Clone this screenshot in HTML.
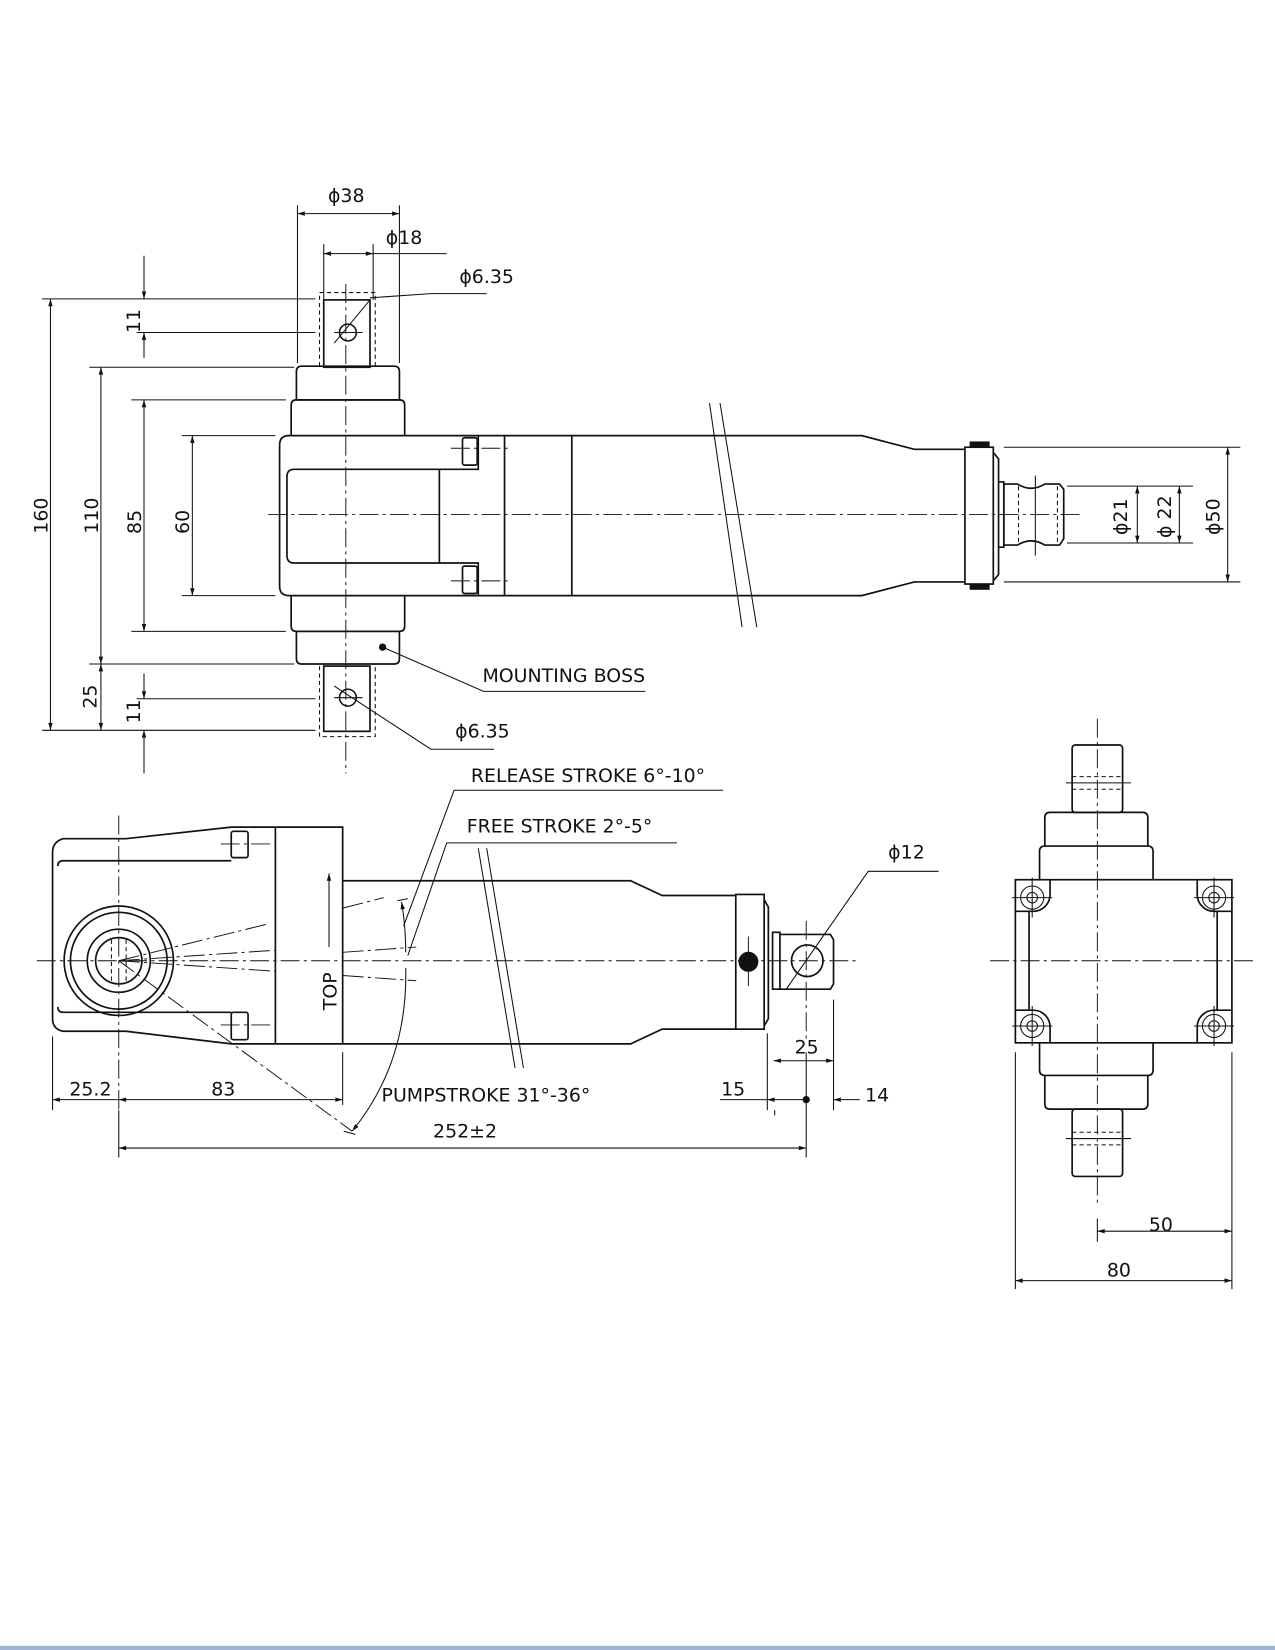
<!DOCTYPE html>
<html><head><style>
html,body{margin:0;padding:0;background:#fff;}
svg{display:block;}
text{font-family:"DejaVu Sans","Liberation Sans",sans-serif;fill:#111;}
</style></head><body>
<svg width="1275" height="1650" viewBox="0 0 1213 1568" preserveAspectRatio="none" xmlns="http://www.w3.org/2000/svg">
<defs>
<marker id="a" viewBox="0 0 10 10" refX="10" refY="5" markerWidth="9" markerHeight="7" orient="auto-start-reverse" markerUnits="userSpaceOnUse"><path d="M0,2 L10,5 L0,8 z" fill="#111"/></marker>
</defs>
<g fill="none" stroke="#111" stroke-width="1">
<!-- ============ TOP VIEW ============ -->
<g stroke-width="1.6">
<rect x="308" y="285" width="44" height="64"/>
<rect x="308" y="633" width="44" height="62"/>
<path d="M282,380 V353 Q282,348 287,348 H375 Q380,348 380,353 V380 Z"/>
<path d="M277,414 V385 Q277,380 282,380 H380 Q385,380 385,385 V414"/>
<path d="M277,566 V595 Q277,600 282,600 H380 Q385,600 385,595 V566"/>
<path d="M282,600 V626 Q282,631 287,631 H375 Q380,631 380,626 V600"/>
<path d="M480,414 H275 Q266,414 266,423 V557 Q266,566 275,566 H480"/>
<path d="M418,446 H280 Q273,446 273,453 V528 Q273,535 280,535 H418 Z"/>
<path d="M418,446 H455 V414 M418,535 H455 V566"/>
<rect x="440" y="416" width="14" height="26" rx="2"/>
<rect x="440" y="538" width="14" height="26" rx="2"/>
<path d="M480,414 V566 M544,414 V566"/>
<path d="M480,414 H820 L870,427 H918 M480,566 H820 L870,553 H918"/>
<rect x="918" y="425" width="27" height="130"/>
<path d="M945,430 L950,436 V546 L945,552 M950,458 H955 V520 H950"/>
<path d="M955,460 H968 Q981,468 994,460 H1008 L1012,465 V512 L1008,518 H994 Q981,510 968,518 H955 Z"/>
</g>
<rect x="923" y="420" width="18" height="5" fill="#111"/>
<rect x="923" y="555" width="18" height="5" fill="#111"/>
<path d="M969,462 V516 M1006,462 V516" stroke-dasharray="4,3"/>
<path d="M985,452 V528"/>
<path d="M675,383 L706,596 M685,383 L720,596"/>
<path d="M304,348 V278 H357 V348 M304,633 V700 H357 V633" stroke-dasharray="4,3"/>
<path d="M329,270 V735 M255,489 H1030" stroke-dasharray="18,4,3,4" stroke-width="0.9"/>
<path d="M429,426 H485 M429,552 H485" stroke-dasharray="18,4,3,4" stroke-width="0.9"/>
<circle cx="331" cy="316" r="8" stroke-width="1.5"/>
<circle cx="331" cy="663" r="8" stroke-width="1.5"/>
<path d="M318,316 H345 M318,663 H345"/>
<circle cx="364" cy="615" r="3" fill="#111"/>
<!-- top view dims -->
<path d="M283,195 V345 M380,195 V345 M308,232 V285 M355,232 V285 M355,241 H425"/>
<line x1="283" y1="203" x2="380" y2="203" marker-start="url(#a)" marker-end="url(#a)"/>
<line x1="308" y1="241" x2="355" y2="241" marker-start="url(#a)" marker-end="url(#a)"/>
<path d="M318,326 L352,285 M352,283 L410,279 H463"/>
<path d="M318,652 L410,712 H470"/>
<path d="M364,615 L460,657 H614"/>
<path d="M40,284 H300 M130,316 H300 M85,349 H280 M125,380 H272 M173,414 H262 M173,566 H262 M125,600 H272 M85,631 H280 M130,664 H300 M40,694 H300"/>
<line x1="48" y1="284" x2="48" y2="694" marker-start="url(#a)" marker-end="url(#a)"/>
<line x1="96" y1="349" x2="96" y2="631" marker-start="url(#a)" marker-end="url(#a)"/>
<line x1="96" y1="631" x2="96" y2="694" marker-start="url(#a)" marker-end="url(#a)"/>
<line x1="137" y1="380" x2="137" y2="600" marker-start="url(#a)" marker-end="url(#a)"/>
<line x1="183" y1="414" x2="183" y2="566" marker-start="url(#a)" marker-end="url(#a)"/>
<line x1="137" y1="243" x2="137" y2="284" marker-end="url(#a)"/>
<line x1="137" y1="340" x2="137" y2="316" marker-end="url(#a)"/>
<line x1="137" y1="640" x2="137" y2="664" marker-end="url(#a)"/>
<line x1="137" y1="735" x2="137" y2="694" marker-end="url(#a)"/>
<path d="M955,425 H1180 M955,553 H1180 M1015,462 H1135 M1015,516 H1135"/>
<line x1="1168" y1="425" x2="1168" y2="553" marker-start="url(#a)" marker-end="url(#a)"/>
<line x1="1122" y1="462" x2="1122" y2="516" marker-start="url(#a)" marker-end="url(#a)"/>
<line x1="1082" y1="462" x2="1082" y2="516" marker-start="url(#a)" marker-end="url(#a)"/>

<!-- ============ SIDE VIEW ============ -->
<g stroke-width="1.6">
<path d="M326,786 H220 L120,797 H60 Q50,800 50,810 V968 Q50,978 60,980 L120,980 L220,992 H326 Z"/>
<path d="M220,818 H60 Q55,818 55,823 M220,962 H60 Q55,962 55,957"/>
<path d="M262,786 V992"/>
<rect x="220" y="790" width="16" height="25" rx="2"/>
<rect x="220" y="962" width="16" height="26" rx="2"/>
<path d="M326,837 H600 L630,851 H700 M326,992 H600 L630,978 H700"/>
<rect x="700" y="850" width="27" height="128"/>
<path d="M727,855 L731,862 V968 L727,975"/>
<rect x="735" y="886" width="7" height="54"/>
<path d="M742,888 H790 L793,893 V935 L790,940 H742"/>
<circle cx="113" cy="913" r="52"/>
<circle cx="113" cy="913" r="46"/>
<circle cx="113" cy="913" r="30"/>
<circle cx="113" cy="913" r="22"/>
<circle cx="768" cy="913" r="15"/>
</g>
<circle cx="712" cy="914" r="9" fill="#111"/>
<path d="M106,893 V933 M120,893 V933" stroke-dasharray="4,3"/>
<path d="M35,913 H815 M113,775 V1055 M712,890 V940 M767,875 V990" stroke-dasharray="18,4,3,4" stroke-width="0.9"/>
<path d="M210,802 H262 M210,974 H262" stroke-dasharray="18,4,3,4" stroke-width="0.9"/>
<path d="M113,913 L335,1075" stroke-dasharray="18,4,3,4" stroke-width="0.9"/>
<path d="M113,913 L255,878 M113,913 L262,903 M113,913 L262,923 M326,863 L365,853 M326,905 L396,900 M326,927 L396,932" stroke-dasharray="20,4,3,4" stroke-width="0.9"/>
<path d="M455,806 L490,1015 M463,806 L498,1015"/>
<line x1="313" y1="900" x2="313" y2="830" marker-end="url(#a)"/>
<path d="M327,1075 L338,1078"/>
<path d="M335,1075 Q388,1010 386,920" marker-start="url(#a)"/>
<path d="M386,905 Q386,880 382,857" marker-end="url(#a)"/>
<path d="M378,856 L388,854"/>
<path d="M384,880 L432,751 H688"/>
<path d="M388,908 L425,801 H644"/>
<path d="M730,982 V1055 M793,950 V1055 M737,1055 V1060 M50,985 V1055 M326,1000 V1050 M113,1055 V1100 M767,1000 V1100"/>
<line x1="113" y1="1045" x2="50" y2="1045" marker-end="url(#a)"/>
<line x1="113" y1="1045" x2="326" y2="1045" marker-start="url(#a)" marker-end="url(#a)"/>
<line x1="113" y1="1091" x2="767" y2="1091" marker-start="url(#a)" marker-end="url(#a)"/>
<line x1="736" y1="1008" x2="793" y2="1008" marker-start="url(#a)" marker-end="url(#a)"/>
<path d="M685,1045 H730"/>
<line x1="767" y1="1045" x2="730" y2="1045" marker-end="url(#a)"/>
<line x1="818" y1="1045" x2="793" y2="1045" marker-end="url(#a)"/>
<circle cx="767" cy="1045" r="3" fill="#111"/>
<path d="M748,940 L826,828 H893"/>

<!-- ============ END VIEW ============ -->
<g stroke-width="1.6">
<rect x="1020" y="708" width="48" height="64" rx="3"/>
<path d="M994,804 V777 Q994,772 999,772 H1087 Q1092,772 1092,777 V804"/>
<path d="M989,836 V809 Q989,804 994,804 H1092 Q1097,804 1097,809 V836"/>
<rect x="966" y="836" width="206" height="155"/>
<path d="M989,991 V1017 Q989,1022 994,1022 H1092 Q1097,1022 1097,1017 V991"/>
<path d="M994,1022 V1049 Q994,1054 999,1054 H1087 Q1092,1054 1092,1049 V1022"/>
<rect x="1020" y="1054" width="48" height="64" rx="3"/>
<path d="M979,866 V960 M1158,866 V960"/>
<path d="M966,866 H983 A16,16 0 0 0 999,850 V836"/>
<path d="M1172,866 H1155 A16,16 0 0 1 1139,850 V836"/>
<path d="M966,960 H983 A16,16 0 0 1 999,976 V991"/>
<path d="M1172,960 H1155 A16,16 0 0 0 1139,976 V991"/>
</g>
<g>
<circle cx="982" cy="853" r="11"/><circle cx="982" cy="853" r="5"/>
<circle cx="1155" cy="853" r="11"/><circle cx="1155" cy="853" r="5"/>
<circle cx="982" cy="975" r="11"/><circle cx="982" cy="975" r="5"/>
<circle cx="1155" cy="975" r="11"/><circle cx="1155" cy="975" r="5"/>
<path d="M963,853 H1001 M982,834 V872 M1136,853 H1174 M1155,834 V872 M963,975 H1001 M982,956 V994 M1136,975 H1174 M1155,956 V994"/>
</g>
<path d="M1020,738 H1068 M1020,750 H1068 M1020,1076 H1068 M1020,1088 H1068" stroke-dasharray="4,3"/>
<path d="M1014,744 H1076 M1014,1082 H1076"/>
<path d="M1044,683 V1145 M942,913 H1193" stroke-dasharray="18,4,3,4" stroke-width="0.9"/>
<path d="M966,1000 V1225 M1172,1000 V1225 M1044,1158 V1180"/>
<line x1="1044" y1="1170" x2="1172" y2="1170" marker-start="url(#a)" marker-end="url(#a)"/>
<line x1="966" y1="1217" x2="1172" y2="1217" marker-start="url(#a)" marker-end="url(#a)"/>
</g>

<!-- TEXT -->
<g font-size="18">
<text x="312" y="192">ϕ38</text>
<text x="367" y="232">ϕ18</text>
<text x="437" y="269">ϕ6.35</text>
<text x="433" y="701">ϕ6.35</text>
<text x="459" y="648">MOUNTING BOSS</text>
<text transform="translate(45,490) rotate(-90)" text-anchor="middle">160</text>
<text transform="translate(93,490) rotate(-90)" text-anchor="middle">110</text>
<text transform="translate(134,496) rotate(-90)" text-anchor="middle">85</text>
<text transform="translate(180,496) rotate(-90)" text-anchor="middle">60</text>
<text transform="translate(133,305) rotate(-90)" text-anchor="middle">11</text>
<text transform="translate(133,676) rotate(-90)" text-anchor="middle">11</text>
<text transform="translate(92,662) rotate(-90)" text-anchor="middle">25</text>
<text transform="translate(1072,491) rotate(-90)" text-anchor="middle">ϕ21</text>
<text transform="translate(1114,491) rotate(-90)" text-anchor="middle">ϕ 22</text>
<text transform="translate(1160,491) rotate(-90)" text-anchor="middle">ϕ50</text>
<text x="448" y="743">RELEASE STROKE 6°-10°</text>
<text x="444" y="791">FREE STROKE 2°-5°</text>
<text x="845" y="816">ϕ12</text>
<text transform="translate(320,942) rotate(-90)" text-anchor="middle">TOP</text>
<text x="66" y="1041">25.2</text>
<text x="201" y="1041">83</text>
<text x="363" y="1047">PUMPSTROKE 31°-36°</text>
<text x="412" y="1081">252±2</text>
<text x="686" y="1041">15</text>
<text x="823" y="1047">14</text>
<text x="756" y="1001">25</text>
<text x="1093" y="1170">50</text>
<text x="1053" y="1213">80</text>
</g>
<rect x="0" y="1564" width="1213" height="4" fill="#9db4d6"/>
</svg>
</body></html>
